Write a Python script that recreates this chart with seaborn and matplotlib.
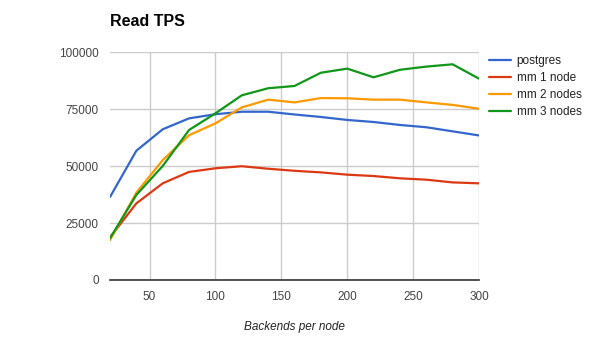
import matplotlib
matplotlib.use("Agg")
import matplotlib.pyplot as plt
import seaborn as sns
import pandas as pd

backends = [20, 40, 60, 80, 100, 120, 140, 160, 180, 200, 220, 240, 260, 280, 300]
postgres = [36400, 56700, 66100, 70900, 72700, 73800, 73800, 72600, 71500, 70200, 69300, 68000, 67000, 65200, 63400]
mm_1_node = [18700, 33600, 42400, 47400, 49000, 49900, 48800, 47900, 47200, 46200, 45600, 44600, 44000, 42800, 42400]
mm_2_nodes = [17500, 38300, 52600, 63500, 68700, 75700, 79100, 77900, 79800, 79700, 79100, 79100, 77900, 76800, 75100]
mm_3_nodes = [18300, 37300, 50000, 65800, 73100, 81000, 84100, 85100, 90900, 92700, 88900, 92200, 93600, 94600, 88300]

series = {
    "postgres": postgres,
    "mm 1 node": mm_1_node,
    "mm 2 nodes": mm_2_nodes,
    "mm 3 nodes": mm_3_nodes,
}
colors = ["#3366cc", "#dc3912", "#ff9900", "#109618"]

df = pd.DataFrame(
    [(b, name, v) for name, vals in series.items() for b, v in zip(backends, vals)],
    columns=["backends", "series", "tps"],
)

sns.set_theme(style="white")
plt.rcParams["font.family"] = ["Liberation Sans", "DejaVu Sans"]

fig = plt.figure(figsize=(5.89, 3.45), dpi=100)
ax = fig.add_axes([110 / 589, 1 - 280 / 345, 369 / 589, 228 / 345])

sns.lineplot(data=df, x="backends", y="tps", hue="series", palette=colors,
             linewidth=1.6, ax=ax, legend=True)

ax.set_xlim(20, 300)
ax.set_ylim(0, 100000)
ax.set_xticks([50, 100, 150, 200, 250, 300])
ax.set_yticks([0, 25000, 50000, 75000, 100000])
ax.set_yticklabels(["0", "25000", "50000", "75000", "100000"])
ax.grid(True, color="#cccccc", linewidth=1)
ax.set_axisbelow(True)
for side in ["left", "right", "top"]:
    ax.spines[side].set_visible(False)
ax.spines["bottom"].set_color("#333333")
ax.spines["bottom"].set_linewidth(1.2)
ax.tick_params(axis="both", length=0, labelsize=8.5, colors="#444444", pad=8)
ax.set_ylabel("")
ax.set_xlabel("Backends per node", fontsize=8.5, style="italic", color="#222222", labelpad=13)

fig.text(110 / 589, 1 - 22 / 345, "Read TPS", fontsize=11.5, fontweight="bold",
         va="center", ha="left", color="#000000")

handles, labels = ax.get_legend_handles_labels()
ax.get_legend().remove()
fig.legend(handles, labels, loc="upper left", bbox_to_anchor=(489 / 589, 1 - 55 / 345),
           frameon=False, fontsize=8.5, handlelength=1.9, handletextpad=0.45,
           labelspacing=0.43, borderaxespad=0, borderpad=0, labelcolor="#222222")

fig.savefig("out.png", dpi=100)
